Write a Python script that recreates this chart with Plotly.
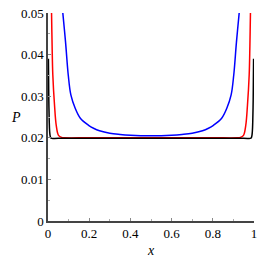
import plotly.graph_objects as go

blue_x = [0.066, 0.0706, 0.0852, 0.0983, 0.111, 0.132, 0.157, 0.197, 0.221, 0.25, 0.30, 0.35, 0.40, 0.45, 0.50,
          0.55, 0.60, 0.65, 0.70, 0.75, 0.779, 0.803, 0.843, 0.868, 0.889, 0.9017, 0.9148, 0.9294, 0.934]
blue_y = [0.0530, 0.0507, 0.0430, 0.0351, 0.0303, 0.0271, 0.0247, 0.0230, 0.0223, 0.0217, 0.0211, 0.0208, 0.0206, 0.0205, 0.0205,
          0.0205, 0.0206, 0.0208, 0.0211, 0.0217, 0.0223, 0.0230, 0.0247, 0.0271, 0.0303, 0.0351, 0.0430, 0.0507, 0.0530]

red_x = [0.016, 0.017, 0.020, 0.0234, 0.0316, 0.040, 0.051, 0.066, 0.08, 0.20, 0.50, 0.80, 0.92,
         0.934, 0.949, 0.960, 0.9684, 0.9766, 0.980, 0.983, 0.984]
red_y = [0.0530, 0.0507, 0.0420, 0.0351, 0.0279, 0.0230, 0.0206, 0.0201, 0.0200, 0.0200, 0.0200, 0.0200, 0.0200,
         0.0201, 0.0206, 0.0230, 0.0279, 0.0351, 0.0420, 0.0507, 0.0530]

black_x = [0.002, 0.003, 0.004, 0.006, 0.008, 0.011, 0.015, 0.05, 0.5, 0.95, 0.985, 0.989, 0.992, 0.994, 0.996, 0.997, 0.998]
black_y = [0.0390, 0.0340, 0.0290, 0.0240, 0.0215, 0.0203, 0.0199, 0.0199, 0.0199, 0.0199, 0.0199, 0.0203, 0.0215, 0.0240, 0.0290, 0.0340, 0.0390]

x_ticks = [0, 0.2, 0.4, 0.6, 0.8, 1]
x_tick_text = ["0", "0.2", "0.4", "0.6", "0.8", "1"]
y_ticks = [0, 0.01, 0.02, 0.03, 0.04, 0.05]
y_tick_text = ["0", "0.01", "0.02", "0.03", "0.04", "0.05"]

SERIF = "Liberation Serif, Times New Roman, serif"

fig = go.Figure()
fig.add_trace(go.Scatter(x=blue_x, y=blue_y, mode="lines", line=dict(color="#0000ff", width=1.5, shape="spline")))
fig.add_trace(go.Scatter(x=red_x, y=red_y, mode="lines", line=dict(color="#ff0000", width=1.5, shape="spline")))
fig.add_trace(go.Scatter(x=black_x, y=black_y, mode="lines", line=dict(color="#000000", width=1.5, shape="spline")))

font = dict(family=SERIF, size=13, color="black")
fig.update_layout(
    width=262, height=262,
    margin=dict(l=48, r=8, t=13, b=41),
    paper_bgcolor="white", plot_bgcolor="white",
    showlegend=False,
    font=font,
)
fig.update_xaxes(range=[0, 1], tickvals=x_ticks, ticktext=x_tick_text, showgrid=False, zeroline=False,
                 showline=True, linecolor="#444", linewidth=1.5, ticks="inside", ticklen=3, tickcolor="#888",
                 minor=dict(ticks="inside", ticklen=2, dtick=0.1, tickcolor="#aaa", showgrid=False),
                 tickfont=font, automargin=False)
fig.update_yaxes(range=[0, 0.05], tickvals=y_ticks, ticktext=y_tick_text, showgrid=False, zeroline=False,
                 showline=True, linecolor="#444", linewidth=1.5, ticks="inside", ticklen=3, tickcolor="#888",
                 minor=dict(ticks="inside", ticklen=2, dtick=0.005, tickcolor="#aaa", showgrid=False),
                 tickfont=font, automargin=False)
fig.add_annotation(text="<i>P</i>", xref="paper", yref="paper", x=-0.187, y=0.50, showarrow=False,
                   font=dict(family=SERIF, size=14, color="black"))
fig.add_annotation(text="<i>x</i>", xref="paper", yref="paper", x=0.5, y=-0.144, yanchor="middle", showarrow=False,
                   font=dict(family=SERIF, size=14, color="black"))
fig.write_html("out.html", config={"displayModeBar": False},
               post_script="document.body.style.margin='0';document.body.style.padding='0';")
